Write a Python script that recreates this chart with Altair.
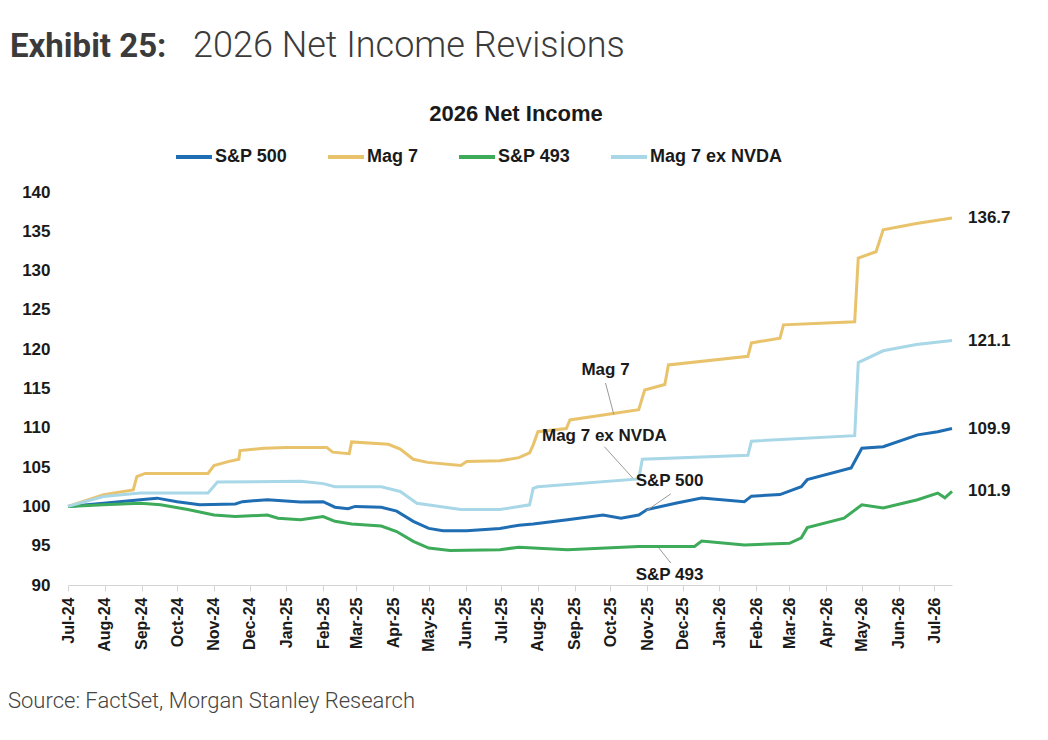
import altair as alt
import pandas as pd

SERIES = ["S&P 500", "Mag 7", "S&P 493", "Mag 7 ex NVDA"]
COLORS = ["#1f6db2", "#e8c36c", "#3dab59", "#a8d7e7"]

sp500_dates = ["2024-07-01", "2024-07-31", "2024-08-31", "2024-09-14", "2024-10-01", "2024-10-20",
               "2024-11-19", "2024-11-25", "2024-12-16", "2025-01-13", "2025-02-01", "2025-02-11",
               "2025-02-22", "2025-02-28", "2025-03-22", "2025-04-04", "2025-04-18", "2025-05-01",
               "2025-05-13", "2025-06-02", "2025-06-30", "2025-07-16", "2025-07-28", "2025-08-26",
               "2025-09-25", "2025-10-10", "2025-10-25", "2025-11-01", "2025-11-25", "2025-12-17",
               "2026-01-22", "2026-01-28", "2026-02-21", "2026-03-11", "2026-03-16", "2026-04-22",
               "2026-05-01", "2026-05-19", "2026-06-17", "2026-07-04", "2026-07-16"]
sp500_vals = [100.0, 100.4, 100.85, 101.05, 100.6, 100.2,
              100.3, 100.6, 100.85, 100.55, 100.6, 99.9,
              99.7, 100.0, 99.9, 99.4, 98.1, 97.2,
              96.9, 96.9, 97.2, 97.6, 97.75, 98.3,
              98.9, 98.5, 98.9, 99.6, 100.4, 101.06,
              100.6, 101.3, 101.5, 102.5, 103.4, 104.9,
              107.4, 107.6, 109.1, 109.5, 109.9]

mag7_dates = ["2024-07-01", "2024-07-31", "2024-08-25", "2024-08-28", "2024-09-04", "2024-10-27",
              "2024-11-01", "2024-11-13", "2024-11-22", "2024-11-23", "2024-12-13", "2025-01-01",
              "2025-02-04", "2025-02-09", "2025-02-23", "2025-02-25", "2025-03-28", "2025-04-07",
              "2025-04-18", "2025-04-30", "2025-05-28", "2025-06-02", "2025-06-30", "2025-07-16",
              "2025-07-25", "2025-07-28", "2025-08-01", "2025-08-25", "2025-08-28", "2025-10-25",
              "2025-10-30", "2025-11-16", "2025-11-19", "2026-01-25", "2026-01-28", "2026-02-21",
              "2026-02-24", "2026-04-25", "2026-04-28", "2026-05-13", "2026-05-19", "2026-06-16",
              "2026-07-16"]
mag7_vals = [100.0, 101.5, 102.1, 103.8, 104.2, 104.2,
             105.2, 105.7, 106.0, 107.1, 107.4, 107.5,
             107.5, 106.9, 106.7, 108.2, 107.9, 107.3,
             106.0, 105.6, 105.2, 105.7, 105.8, 106.2,
             106.8, 107.8, 109.5, 109.9, 111.0, 112.3,
             114.8, 115.5, 118.0, 119.1, 120.8, 121.4,
             123.1, 123.5, 131.6, 132.4, 135.2, 136.0,
             136.7]

sp493_dates = ["2024-07-01", "2024-07-31", "2024-08-31", "2024-09-17", "2024-10-10", "2024-11-01",
               "2024-11-19", "2024-12-16", "2024-12-25", "2025-01-13", "2025-02-01", "2025-02-11",
               "2025-02-25", "2025-03-22", "2025-04-04", "2025-04-18", "2025-05-01", "2025-05-19",
               "2025-06-30", "2025-07-16", "2025-08-26", "2025-10-25", "2025-12-11", "2025-12-17",
               "2026-01-22", "2026-03-01", "2026-03-11", "2026-03-16", "2026-04-16", "2026-05-01",
               "2026-05-19", "2026-06-17", "2026-07-04", "2026-07-10", "2026-07-16"]
sp493_vals = [100.0, 100.2, 100.4, 100.2, 99.6, 98.9,
              98.7, 98.9, 98.5, 98.3, 98.7, 98.1,
              97.75, 97.5, 96.8, 95.55, 94.7, 94.4,
              94.5, 94.8, 94.5, 94.9, 94.9, 95.6,
              95.1, 95.3, 96.0, 97.3, 98.5, 100.2,
              99.8, 100.85, 101.7, 101.1, 101.9]

exnvda_dates = ["2024-07-01", "2024-07-31", "2024-08-31", "2024-10-27", "2024-11-04", "2025-01-13",
                "2025-02-01", "2025-02-11", "2025-03-22", "2025-04-07", "2025-04-21", "2025-04-30",
                "2025-05-28", "2025-06-30", "2025-07-25", "2025-07-28", "2025-08-01", "2025-10-25",
                "2025-10-28", "2026-01-25", "2026-01-28", "2026-04-25", "2026-04-28", "2026-05-19",
                "2026-06-16", "2026-07-16"]
exnvda_vals = [100.0, 101.25, 101.7, 101.7, 103.1, 103.2,
               102.9, 102.5, 102.5, 101.9, 100.4, 100.2,
               99.6, 99.6, 100.2, 102.3, 102.5, 103.5,
               106.0, 106.5, 108.3, 109.0, 118.3, 119.8,
               120.6, 121.1]

# annotation labels (in data coordinates) and leader lines
ann_text = ["Mag 7", "Mag 7 ex NVDA", "S&P 500", "S&P 493"]
ann_date = ["2025-09-27", "2025-09-26", "2025-11-20", "2025-11-20"]
ann_val = [117.3, 108.9, 103.2, 91.3]
lead_d1 = ["2025-09-27", "2025-09-26", "2025-11-21", "2025-11-11"]
lead_v1 = [115.7, 107.6, 101.6, 94.7]
lead_d2 = ["2025-10-04", "2025-10-20", "2025-10-31", "2025-11-21"]
lead_v2 = [111.7, 103.6, 99.4, 92.8]

Y_TICKS = [90, 95, 100, 105, 110, 115, 120, 125, 130, 135, 140]

rows = []
for name, ds, vs in [("S&P 500", sp500_dates, sp500_vals), ("Mag 7", mag7_dates, mag7_vals),
                     ("S&P 493", sp493_dates, sp493_vals), ("Mag 7 ex NVDA", exnvda_dates, exnvda_vals)]:
    for d, v in zip(ds, vs):
        rows.append({"series": name, "date": d, "value": v})
df = pd.DataFrame(rows)
last = df.groupby("series", sort=False).tail(1).copy()
last["label"] = last["value"].map(lambda v: f"{v:.1f}")

ann = pd.DataFrame({"text": ann_text, "date": ann_date, "value": ann_val})
lead = pd.DataFrame({"d1": lead_d1, "v1": lead_v1, "d2": lead_d2, "v2": lead_v2})

FONT = "Liberation Sans"
xscale = alt.Scale(domain=["2024-07-01", "2026-07-16"])
yscale = alt.Scale(domain=[90, 140], nice=False, zero=False)
xaxis = alt.Axis(format="%b-%y", tickCount={"interval": "month", "step": 1}, labelAngle=-90)
yaxis = alt.Axis(values=Y_TICKS)


def X(field):
    return alt.X(field, scale=xscale, title=None, axis=xaxis)


def Y(field):
    return alt.Y(field, scale=yscale, title=None, axis=yaxis)


lines = alt.Chart(df).mark_line(strokeWidth=3, interpolate="linear").encode(
    x=X("date:T"), y=Y("value:Q"),
    color=alt.Color("series:N", scale=alt.Scale(domain=SERIES, range=COLORS),
                    legend=alt.Legend(title=None, orient="none", direction="horizontal",
                                      legendX=106, legendY=-55, symbolType="stroke",
                                      symbolSize=1296, symbolStrokeWidth=4,
                                      labelFont=FONT, labelFontWeight="bold", labelFontSize=18,
                                      labelColor="#1a1a1a", labelOffset=1, columnPadding=32)),
)

end_labels = alt.Chart(last).mark_text(align="left", baseline="middle", dx=16, font=FONT,
                                       fontWeight="bold", fontSize=17, color="#1a1a1a").encode(
    x=X("date:T"), y=Y("value:Q"), text="label:N")

ann_layer = alt.Chart(ann).mark_text(align="center", baseline="middle", font=FONT,
                                     fontWeight="bold", fontSize=17, color="#1a1a1a").encode(
    x=X("date:T"), y=Y("value:Q"), text="text:N")

lead_layer = alt.Chart(lead).mark_rule(color="#9a9a9a", strokeWidth=1).encode(
    x=X("d1:T"), y=Y("v1:Q"), x2="d2:T", y2="v2:Q")

one = pd.DataFrame({"k": [0]})
t_exhibit = alt.Chart(one).mark_text(align="left", baseline="alphabetic", font="Roboto",
                                     fontWeight="bold", fontSize=33, color="#3b3b3b").encode(
    x=alt.value(-58), y=alt.value(-135), text=alt.value("Exhibit 25:"))
t_title = alt.Chart(one).mark_text(align="left", baseline="alphabetic", font="Roboto",
                                   fontWeight=300, fontSize=36, color="#3b3b3b").encode(
    x=alt.value(125), y=alt.value(-135), text=alt.value("2026 Net Income Revisions"))
t_chart = alt.Chart(one).mark_text(align="center", baseline="alphabetic", font=FONT,
                                   fontWeight="bold", fontSize=22, color="#1a1a1a").encode(
    x=alt.value(448), y=alt.value(-71), text=alt.value("2026 Net Income"))
t_source = alt.Chart(one).mark_text(align="left", baseline="alphabetic", font="Roboto",
                                    fontWeight=300, fontSize=22, color="#444444").encode(
    x=alt.value(-60), y=alt.value(516), text=alt.value("Source: FactSet, Morgan Stanley Research"))

chart = alt.layer(lines, lead_layer, ann_layer, end_labels, t_exhibit, t_title, t_chart, t_source).properties(
    width=884, height=393,
    background="white",
    autosize=alt.AutoSizeParams(type="none"),
    padding={"left": 60, "top": 184, "right": 88, "bottom": 140},
).configure_view(stroke=None, strokeWidth=0).configure_axisX(
    labelFont=FONT, labelFontWeight="bold", labelFontSize=16, labelColor="#1a1a1a",
    labelPadding=6, domainColor="#d4d4d4", tickColor="#d4d4d4", tickSize=6,
    grid=False, labelOverlap=False, labelFlush=False,
).configure_axisY(
    labelFont=FONT, labelFontWeight="bold", labelFontSize=17, labelColor="#1a1a1a",
    labelPadding=18, domain=False, ticks=False, grid=False, labelOverlap=False,
)

chart.save("out.html", embed_options={"renderer": "svg", "actions": False})
